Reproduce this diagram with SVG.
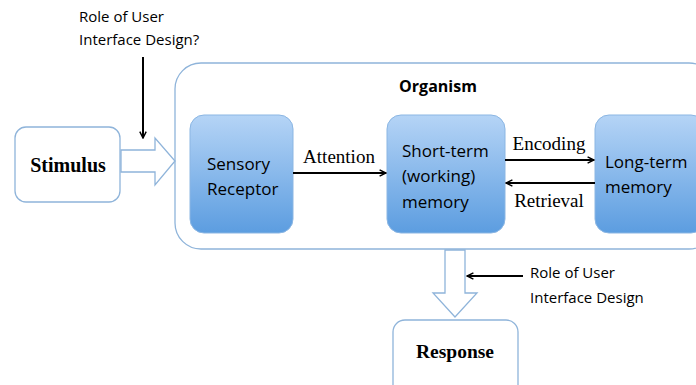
<svg xmlns="http://www.w3.org/2000/svg" width="696" height="385" viewBox="0 0 696 385">
<defs>
<linearGradient id="blue" x1="0" y1="0" x2="0" y2="1">
<stop offset="0" stop-color="#b5d4f6"/>
<stop offset="1" stop-color="#5c9de0"/>
</linearGradient>
<marker id="ah" viewBox="0 0 10 10" refX="9" refY="5" markerWidth="8" markerHeight="8" orient="auto" markerUnits="userSpaceOnUse">
<path d="M1,1 L9,5 L1,9" fill="none" stroke="#000" stroke-width="1.8"/>
</marker>
</defs>
<style>
.wbox{fill:#fff;stroke:#8fb4da;stroke-width:1.3}
.bbox{fill:url(#blue);stroke:#8bb6e3;stroke-width:1}
.hollow{fill:#fff;stroke:#8fb4da;stroke-width:1.3}
.sans{font-family:"Open Sans","Liberation Sans",sans-serif;fill:#000}
.serif{font-family:"Liberation Serif",serif;fill:#000}
.line{stroke:#000;stroke-width:2;fill:none}
</style>
<rect width="696" height="385" fill="#fff"/>

<g id="organism">
<rect class="wbox" x="175" y="63" width="540" height="186" rx="26"/>
<text class="sans" x="438" y="92" font-size="16" font-weight="bold" text-anchor="middle">Organism</text>
</g>

<g id="stimulus">
<rect class="wbox" x="15" y="127" width="105" height="75" rx="11"/>
<text class="serif" x="68" y="172" font-size="20" font-weight="bold" text-anchor="middle">Stimulus</text>
</g>

<g id="sensory">
<rect class="bbox" x="190" y="115" width="103" height="118" rx="14"/>
<text class="sans" x="207" y="170" font-size="17">Sensory</text>
<text class="sans" x="207" y="195" font-size="17">Receptor</text>
</g>

<g id="shortterm">
<rect class="bbox" x="387" y="115" width="118" height="118" rx="14"/>
<text class="sans" x="402" y="157" font-size="17">Short-term</text>
<text class="sans" x="402" y="182" font-size="17">(working)</text>
<text class="sans" x="402" y="208" font-size="17">memory</text>
</g>

<g id="longterm">
<rect class="bbox" x="595" y="115" width="110" height="118" rx="14"/>
<text class="sans" x="605" y="168" font-size="17">Long-term</text>
<text class="sans" x="605" y="193" font-size="17">memory</text>
</g>

<g id="response">
<rect class="wbox" x="393" y="320" width="125" height="80" rx="12"/>
<text class="serif" x="455" y="358" font-size="19.5" font-weight="bold" text-anchor="middle">Response</text>
</g>

<g id="note-top">
<text class="sans" x="79" y="22" font-size="15">Role of User</text>
<text class="sans" x="79" y="45" font-size="15">Interface Design?</text>
</g>

<g id="note-bottom">
<text class="sans" x="530" y="278" font-size="15">Role of User</text>
<text class="sans" x="530" y="303" font-size="15">Interface Design</text>
</g>

<g id="connectors">
<path class="hollow" d="M121,150 L155,150 L155,138 L175,161 L155,185 L155,172 L121,172 Z"/>
<path class="hollow" d="M445,250 L465,250 L465,293 L477,293 L455,317 L433,293 L445,293 Z"/>
<line class="line" x1="143" y1="57" x2="143" y2="138" marker-end="url(#ah)"/>
<line class="line" x1="293" y1="173" x2="386" y2="173" marker-end="url(#ah)"/>
<text class="serif" x="339" y="163" font-size="19" text-anchor="middle">Attention</text>
<line class="line" x1="505" y1="160" x2="594" y2="160" marker-end="url(#ah)"/>
<text class="serif" x="549" y="150" font-size="19" text-anchor="middle">Encoding</text>
<line class="line" x1="595" y1="183" x2="506" y2="183" marker-end="url(#ah)"/>
<text class="serif" x="549" y="207" font-size="19" text-anchor="middle">Retrieval</text>
<line class="line" x1="523" y1="276" x2="467" y2="276" marker-end="url(#ah)"/>
</g>
</svg>
